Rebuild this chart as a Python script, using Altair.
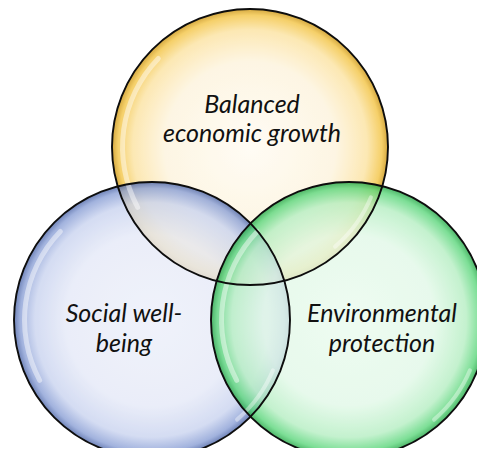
import altair as alt
import pandas as pd

# Venn circles (centres in reference pixel units)
names = ["Balanced economic growth", "Social well-being", "Environmental protection"]
cx = [250, 152, 349]
cy = [147, 320, 320]

# label lines
label_text = ["Balanced", "economic growth", "Social well-", "being", "Environmental", "protection"]
label_x = [252, 252, 124, 124, 382, 382]
label_y = [105, 134, 314, 344, 314, 344]

R = 138
W, H = 469, 440

palettes = [
    ["#fffbf2", "#fdf3dc", "#fbe2a0", "#f3c444", "#c99210"],
    ["#eceffa", "#e5e9f7", "#c9d3ef", "#8a9fd5", "#4b64a6"],
    ["#eafbee", "#e1f8e7", "#b5eec2", "#5bd67b", "#22a444"],
]
offsets = [0, 0.62, 0.85, 0.955, 1]

xs = alt.Scale(domain=[8, 8 + W], range=[0, W])
ys = alt.Scale(domain=[8, 8 + H], reverse=True)

circles = pd.DataFrame({"name": names, "cx": cx, "cy": cy})
labels = pd.DataFrame({"t": label_text, "x": label_x, "y": label_y})

X = alt.X("cx:Q", scale=xs, axis=None)
Y = alt.Y("cy:Q", scale=ys, axis=None)

layers = []
for i, pal in enumerate(palettes):
    grad = alt.Gradient(
        gradient="radial",
        stops=[alt.GradientStop(offset=o, color=c) for o, c in zip(offsets, pal)],
        x1=0.5, y1=0.5, r1=0, x2=0.5, y2=0.5, r2=0.5,
    )
    layers.append(
        alt.Chart(circles.iloc[[i]])
        .mark_circle(fill=grad, fillOpacity=0.8, strokeWidth=0, opacity=1)
        .encode(x=X, y=Y, size=alt.value((2 * R) ** 2))
    )

# glossy highlights on the inner left edge
highlight = (
    alt.Chart(circles)
    .mark_arc(theta=4.2, theta2=5.5, radius=R - 8, radius2=R - 13,
              fill="white", opacity=0.45, cornerRadius=3)
    .encode(x=X, y=Y)
)
highlight2 = (
    alt.Chart(circles)
    .mark_arc(theta=1.95, theta2=2.45, radius=R - 5, radius2=R - 9,
              fill="white", opacity=0.4, cornerRadius=2)
    .encode(x=X, y=Y)
)

outlines = (
    alt.Chart(circles)
    .mark_circle(filled=False, stroke="#0d0d0d", strokeWidth=1.9, opacity=1, fillOpacity=0)
    .encode(x=X, y=Y, size=alt.value((2 * R) ** 2))
)

text = (
    alt.Chart(labels)
    .mark_text(font="Lato", fontStyle="italic", fontSize=25, color="#111111",
               align="center", baseline="middle")
    .encode(x=alt.X("x:Q", scale=xs, axis=None),
            y=alt.Y("y:Q", scale=ys, axis=None),
            text="t:N")
)

chart = (
    alt.layer(*layers, highlight, highlight2, outlines, text)
    .properties(width=W, height=H, autosize=alt.AutoSizeParams(type="none"), padding=0)
    .configure_view(stroke=None)
)

chart.save("out.html", embed_options={"renderer": "svg", "actions": False})
